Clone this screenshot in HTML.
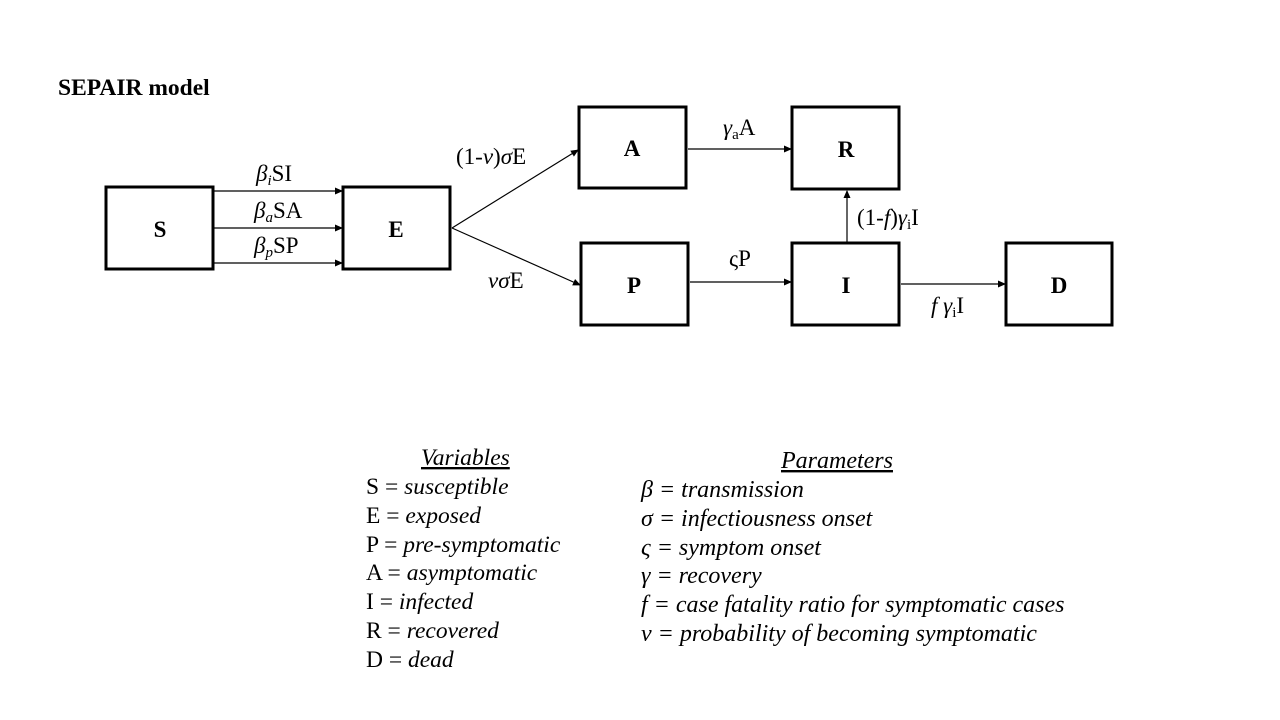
<!DOCTYPE html>
<html><head><meta charset="utf-8"><style>
html,body{margin:0;padding:0;background:#fff;}
svg{display:block;font-family:"Liberation Serif",serif;}
</style></head><body>
<svg width="1280" height="720" viewBox="0 0 1280 720">
<defs><marker id="ah" markerWidth="8" markerHeight="8" refX="7" refY="4" orient="auto" markerUnits="userSpaceOnUse"><path d="M0,0.5 L8,4 L0,7.5z" fill="#000"/></marker></defs>
<text x="58" y="95" font-size="23.5" font-weight="bold">SEPAIR model</text>
<g fill="none" stroke="#000" stroke-width="3">
<rect x="106" y="187" width="107" height="82"/>
<rect x="343" y="187" width="107" height="82"/>
<rect x="579" y="107" width="107" height="81"/>
<rect x="792" y="107" width="107" height="82"/>
<rect x="581" y="243" width="107" height="82"/>
<rect x="792" y="243" width="107" height="82"/>
<rect x="1006" y="243" width="106" height="82"/>
</g>
<g font-size="23" font-weight="bold" text-anchor="middle">
<text x="160" y="237">S</text><text x="396" y="237">E</text><text x="632" y="156">A</text>
<text x="846" y="157">R</text><text x="634" y="293">P</text><text x="846" y="293">I</text><text x="1059" y="293">D</text>
</g>
<g stroke="#000" stroke-width="1.2" marker-end="url(#ah)">
<line x1="214" y1="191" x2="342" y2="191"/>
<line x1="214" y1="228" x2="342" y2="228"/>
<line x1="214" y1="263" x2="342" y2="263"/>
<line x1="452" y1="228" x2="578" y2="150"/>
<line x1="452" y1="228" x2="580" y2="285"/>
<line x1="688" y1="149" x2="791" y2="149"/>
<line x1="690" y1="282" x2="791" y2="282"/>
<line x1="847" y1="242" x2="847" y2="191"/>
<line x1="901" y1="284" x2="1005" y2="284"/>
</g>
<g font-size="23">
<text x="256" y="181"><tspan font-style="italic">β</tspan><tspan font-style="italic" font-size="15" dy="4">i</tspan><tspan dy="-4">SI</tspan></text>
<text x="254" y="218"><tspan font-style="italic">β</tspan><tspan font-style="italic" font-size="15" dy="4">a</tspan><tspan dy="-4">SA</tspan></text>
<text x="254" y="253"><tspan font-style="italic">β</tspan><tspan font-style="italic" font-size="15" dy="4">p</tspan><tspan dy="-4">SP</tspan></text>
<text x="456" y="164">(1-<tspan font-style="italic">v</tspan>)<tspan font-style="italic">σ</tspan>E</text>
<text x="488" y="288"><tspan font-style="italic">vσ</tspan>E</text>
<text x="723" y="135"><tspan font-style="italic">γ</tspan><tspan font-size="15" dy="4">a</tspan><tspan dy="-4">A</tspan></text>
<text x="729" y="266">ςP</text>
<text x="857" y="225">(1-<tspan font-style="italic">f</tspan>)<tspan font-style="italic">γ</tspan><tspan font-size="15" dy="4">i</tspan><tspan dy="-4">I</tspan></text>
<text x="931" y="313"><tspan font-style="italic">f γ</tspan><tspan font-size="15" dy="4">i</tspan><tspan dy="-4">I</tspan></text>
</g>
<g font-size="23.5">
<text x="421" y="465" font-style="italic" text-decoration="underline">Variables</text>
<text x="366" y="494">S = <tspan font-style="italic">susceptible</tspan></text>
<text x="366" y="523">E = <tspan font-style="italic">exposed</tspan></text>
<text x="366" y="552">P = <tspan font-style="italic">pre-symptomatic</tspan></text>
<text x="366" y="580">A = <tspan font-style="italic">asymptomatic</tspan></text>
<text x="366" y="609">I = <tspan font-style="italic">infected</tspan></text>
<text x="366" y="638">R = <tspan font-style="italic">recovered</tspan></text>
<text x="366" y="667">D = <tspan font-style="italic">dead</tspan></text>
</g>
<g font-size="24" font-style="italic">
<text x="781" y="468" text-decoration="underline"> Parameters</text>
<text x="641" y="497">β = transmission</text>
<text x="641" y="526">σ = infectiousness onset</text>
<text x="641" y="555">ς = symptom onset</text>
<text x="641" y="583">γ = recovery</text>
<text x="641" y="612">f = case fatality ratio for symptomatic cases</text>
<text x="641" y="641">v = probability of becoming symptomatic</text>
</g>
</svg>
</body></html>
